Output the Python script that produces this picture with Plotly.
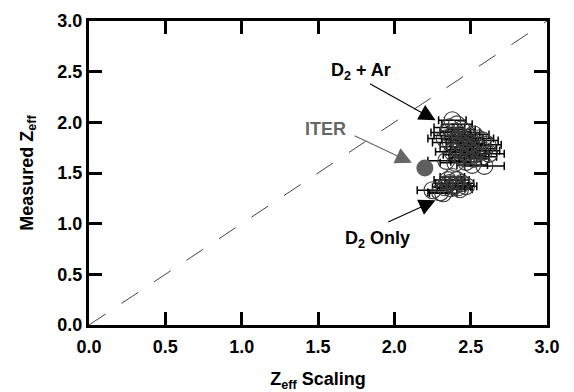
import plotly.graph_objects as go

# D2 + Ar discharges
ar_x = [2.38, 2.41, 2.36, 2.44, 2.35, 2.40, 2.47, 2.52, 2.38, 2.43, 2.49, 2.55, 2.33, 2.41,
        2.46, 2.58, 2.37, 2.44, 2.50, 2.53, 2.61, 2.40, 2.47, 2.56, 2.43, 2.50, 2.59, 2.38,
        2.46, 2.53, 2.62, 2.42, 2.49, 2.57, 2.45, 2.52, 2.34, 2.47, 2.40, 2.59, 2.51]
ar_y = [2.02, 1.98, 1.95, 1.93, 1.90, 1.91, 1.90, 1.88, 1.87, 1.86, 1.85, 1.84, 1.84, 1.83,
        1.82, 1.82, 1.80, 1.79, 1.79, 1.77, 1.78, 1.76, 1.76, 1.74, 1.73, 1.72, 1.72, 1.71,
        1.70, 1.69, 1.69, 1.68, 1.67, 1.66, 1.65, 1.64, 1.62, 1.61, 1.60, 1.57, 1.58]
ar_xerr = [0.09, 0.10, 0.10, 0.09, 0.11, 0.10, 0.09, 0.10, 0.12, 0.10, 0.09, 0.10, 0.11, 0.10,
           0.09, 0.10, 0.12, 0.10, 0.09, 0.10, 0.09, 0.10, 0.10, 0.11, 0.09, 0.10, 0.10, 0.11,
           0.10, 0.09, 0.10, 0.10, 0.11, 0.10, 0.09, 0.10, 0.12, 0.10, 0.10, 0.13, 0.10]

# D2 only discharges
d2_x = [2.25, 2.32, 2.33, 2.36, 2.38, 2.40, 2.42, 2.37, 2.44, 2.35, 2.41, 2.39, 2.47, 2.30, 2.43]
d2_y = [1.33, 1.30, 1.36, 1.40, 1.46, 1.38, 1.36, 1.35, 1.40, 1.43, 1.43, 1.37, 1.37, 1.31, 1.34]
d2_xerr = [0.10, 0.09, 0.08, 0.09, 0.08, 0.09, 0.08, 0.09, 0.08, 0.09, 0.08, 0.09, 0.07, 0.08, 0.08]

# ITER point
iter_x = [2.2]
iter_y = [1.55]

# unity line
line_x = [0.0, 3.0]
line_y = [0.0, 3.0]

tick_vals = [0.0, 0.5, 1.0, 1.5, 2.0, 2.5, 3.0]
tick_text = ["0.0", "0.5", "1.0", "1.5", "2.0", "2.5", "3.0"]

FONT = "Liberation Sans, Arial, sans-serif"

fig = go.Figure()

fig.add_trace(go.Scatter(x=line_x, y=line_y, mode="lines",
                         line=dict(color="#444", width=1, dash="20px,19px"),
                         hoverinfo="skip", showlegend=False))

for xs, ys, es in [(ar_x, ar_y, ar_xerr), (d2_x, d2_y, d2_xerr)]:
    fig.add_trace(go.Scatter(
        x=xs, y=ys, mode="markers",
        marker=dict(symbol="circle-open", size=17, color="#3a3a3a", line=dict(width=1.1, color="#3a3a3a")),
        error_x=dict(type="data", array=es, visible=True, color="black", thickness=1.5, width=4),
        showlegend=False))

fig.add_trace(go.Scatter(x=iter_x, y=iter_y, mode="markers",
                         marker=dict(symbol="circle", size=17, color="#5f5f5f"),
                         showlegend=False))

tfont = dict(family=FONT, size=18, color="black", weight="bold")

annotations = [
    # labels
    dict(x=1.78, y=2.50, text="D<sub>2</sub> + Ar", showarrow=False, font=tfont),
    dict(x=1.55, y=1.93, text="ITER", showarrow=False,
         font=dict(family=FONT, size=18, color="#666", weight="bold")),
    dict(x=1.89, y=0.84, text="D<sub>2</sub> Only", showarrow=False, font=tfont),
    # arrows
    dict(x=2.27, y=2.02, ax=1.83, ay=2.39, axref="x", ayref="y", text="", showarrow=True,
         arrowhead=2, arrowsize=3, arrowwidth=1.1, arrowcolor="black"),
    dict(x=2.115, y=1.60, ax=1.73, ay=1.875, axref="x", ayref="y", text="", showarrow=True,
         arrowhead=2, arrowsize=3, arrowwidth=1.1, arrowcolor="#666"),
    dict(x=2.27, y=1.23, ax=1.95, ay=1.01, axref="x", ayref="y", text="", showarrow=True,
         arrowhead=2, arrowsize=3, arrowwidth=1.1, arrowcolor="black"),
]

axis_common = dict(range=[0, 3], tickvals=tick_vals, ticktext=tick_text,
                   ticks="inside", ticklen=13, tickwidth=3, tickcolor="black",
                   showline=True, linewidth=3, linecolor="black", mirror="ticks",
                   showgrid=False, zeroline=False, automargin=False,
                   tickfont=dict(family=FONT, size=18, color="black", weight="bold"))

fig.update_layout(
    width=574, height=392,
    margin=dict(l=89, r=27, t=21, b=67),
    paper_bgcolor="white", plot_bgcolor="white",
    xaxis=dict(**axis_common, ticklabelstandoff=3,
               title=dict(text="Z<sub>eff</sub> Scaling", standoff=22,
                          font=dict(family=FONT, size=18, color="black", weight="bold"))),
    yaxis=dict(**axis_common,
               title=dict(text="Measured Z<sub>eff</sub>", standoff=20,
                          font=dict(family=FONT, size=18, color="black", weight="bold"))),
    annotations=annotations,
)

fig.write_html("out.html", config={"displayModeBar": False},
               post_script="document.body.style.margin='0';document.body.style.overflow='hidden';")
